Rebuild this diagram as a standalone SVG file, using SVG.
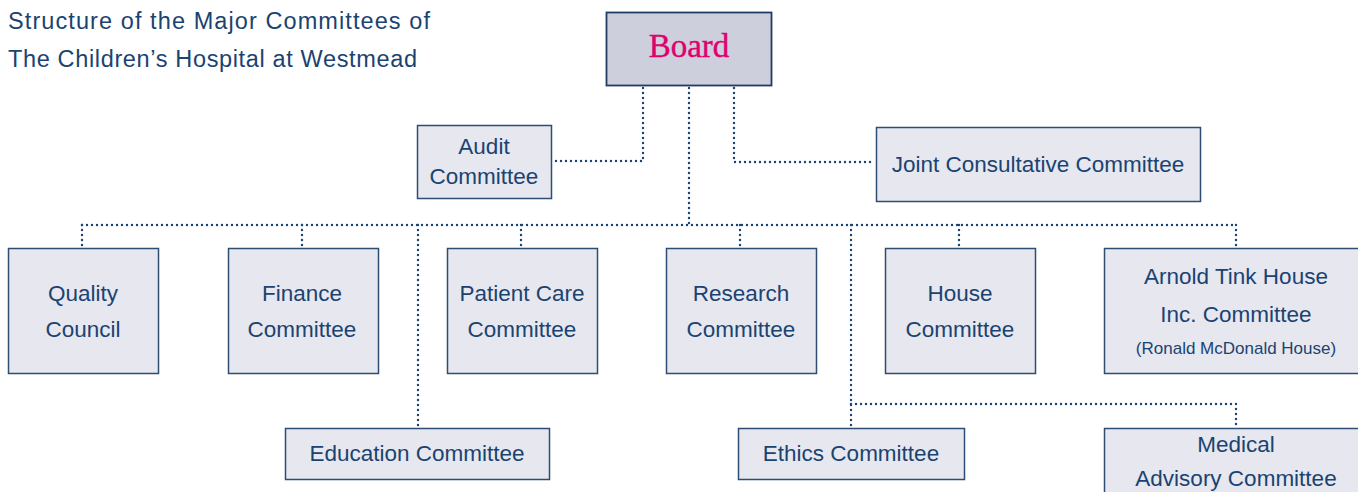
<svg xmlns="http://www.w3.org/2000/svg" width="1358" height="492" viewBox="0 0 1358 492">
  <style>
    .box { fill: #e6e7ef; stroke: #2d4d73; stroke-width: 1.5; }
    .board { fill: #cdcfdd; stroke: #1f3d63; stroke-width: 1.8; }
    .t { font-family: "Liberation Sans", Arial, sans-serif; font-size: 22.5px; fill: #1b4371; text-anchor: middle; }
    .small { font-size: 17px; }
    .title { font-family: "Liberation Sans", Arial, sans-serif; font-size: 23.5px; fill: #1b4371; }
    .link { fill: none; stroke: #1b4371; stroke-width: 2.4; stroke-linecap: round; stroke-dasharray: 0 5; }
  </style>

  <!-- heading -->
  <text class="title" x="8" y="29" textLength="422">Structure of the Major Committees of</text>
  <text class="title" x="8" y="67" textLength="409">The Children’s Hospital at Westmead</text>

  <!-- dotted reporting lines -->
  <g id="connectors">
    <path class="link" d="M643 88 V161 H553"/>
    <path class="link" d="M734 88 V162 H875"/>
    <path class="link" d="M689 88 V225"/>
    <path class="link" d="M82 225 H1236"/>
    <path class="link" d="M82 225 V247"/>
    <path class="link" d="M302 225 V247"/>
    <path class="link" d="M521 225 V247"/>
    <path class="link" d="M740 225 V247"/>
    <path class="link" d="M959 225 V247"/>
    <path class="link" d="M1236 225 V247"/>
    <path class="link" d="M418 225 V427"/>
    <path class="link" d="M851 225 V427"/>
    <path class="link" d="M851 404 H1236 V427"/>
  </g>

  <g id="board">
    <rect class="board" x="606.5" y="12.5" width="165" height="73"/>
    <text x="689" y="57" font-family="'Liberation Serif', 'Times New Roman', serif" font-size="33" fill="#e0006e" stroke="#e0006e" stroke-width="0.4" text-anchor="middle">Board</text>
  </g>

  <g id="audit">
    <rect class="box" x="417.5" y="125.5" width="134" height="73"/>
    <text class="t" x="484" y="154">Audit</text>
    <text class="t" x="484" y="184">Committee</text>
  </g>

  <g id="joint">
    <rect class="box" x="876.5" y="127.5" width="324" height="74"/>
    <text class="t" x="1038" y="172">Joint Consultative Committee</text>
  </g>

  <g id="quality">
    <rect class="box" x="8.5" y="248.5" width="150" height="125"/>
    <text class="t" x="83" y="301">Quality</text>
    <text class="t" x="83" y="337">Council</text>
  </g>

  <g id="finance">
    <rect class="box" x="228.5" y="248.5" width="150" height="125"/>
    <text class="t" x="302" y="301">Finance</text>
    <text class="t" x="302" y="337">Committee</text>
  </g>

  <g id="patient-care">
    <rect class="box" x="447.5" y="248.5" width="150" height="125"/>
    <text class="t" x="522" y="301">Patient Care</text>
    <text class="t" x="522" y="337">Committee</text>
  </g>

  <g id="research">
    <rect class="box" x="666.5" y="248.5" width="150" height="125"/>
    <text class="t" x="741" y="301">Research</text>
    <text class="t" x="741" y="337">Committee</text>
  </g>

  <g id="house">
    <rect class="box" x="885.5" y="248.5" width="150" height="125"/>
    <text class="t" x="960" y="301">House</text>
    <text class="t" x="960" y="337">Committee</text>
  </g>

  <g id="arnold-tink">
    <rect class="box" x="1104.5" y="248.5" width="262" height="125"/>
    <text class="t" x="1236" y="284">Arnold Tink House</text>
    <text class="t" x="1236" y="322">Inc. Committee</text>
    <text class="t small" x="1236" y="354">(Ronald McDonald House)</text>
  </g>

  <g id="education">
    <rect class="box" x="285.5" y="428.5" width="264" height="51"/>
    <text class="t" x="417" y="461">Education Committee</text>
  </g>

  <g id="ethics">
    <rect class="box" x="738.5" y="428.5" width="226" height="51"/>
    <text class="t" x="851" y="461">Ethics Committee</text>
  </g>

  <g id="medical-advisory">
    <rect class="box" x="1104.5" y="428.5" width="262" height="80"/>
    <text class="t" x="1236" y="452">Medical</text>
    <text class="t" x="1236" y="486">Advisory Committee</text>
  </g>
</svg>
